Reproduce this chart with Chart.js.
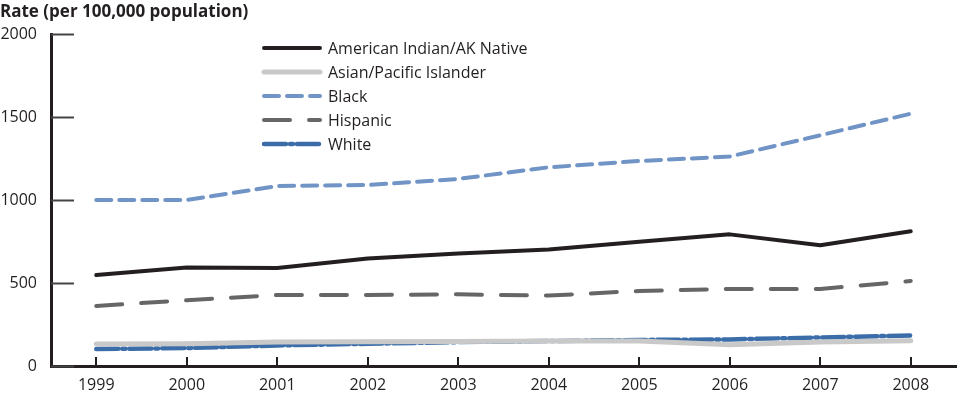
<!DOCTYPE html>
<html>
<head>
<meta charset="utf-8">
<script src="https://cdn.jsdelivr.net/npm/chart.js@4/dist/chart.umd.min.js"></script>
<style>
  html, body { margin: 0; padding: 0; background: #fff; }
  #wrap { width: 960px; height: 395px; position: relative; }
</style>
</head>
<body>
<div id="wrap"><canvas id="rateChart" width="960" height="395"></canvas></div>
<script>
// data
const years = ["1999", "2000", "2001", "2002", "2003", "2004", "2005", "2006", "2007", "2008"];
const aianRates = [548, 594, 590, 648, 678, 702, 748, 793, 728, 812];
const asianRates = [132, 134, 144, 146, 148, 150, 150, 128, 144, 152];
const blackRates = [1000, 1000, 1084, 1090, 1127, 1197, 1235, 1262, 1390, 1520];
const hispanicRates = [362, 396, 428, 428, 432, 424, 452, 464, 464, 512];
const whiteRates = [102, 108, 124, 134, 144, 150, 157, 160, 172, 184];
const yTicks = [0, 500, 1000, 1500, 2000];

const FONT = "'Open Sans', 'Noto Sans', sans-serif";
const INK = "#231f20";

const series = [
  { label: "American Indian/AK Native", data: aianRates, color: "#231f20", width: 4, dash: [] },
  { label: "Asian/Pacific Islander", data: asianRates, color: "#c9c9c9", width: 5, dash: [] },
  { label: "Black", data: blackRates, color: "#7194c6", width: 4, dash: [15, 8] },
  { label: "Hispanic", data: hispanicRates, color: "#666666", width: 4, dash: [26, 19] },
  { label: "White", data: whiteRates, color: "#3b6ea9", width: 4.5, dash: [22, 4, 3, 4] }
];

// title, inner tick marks and the custom legend
const decorPlugin = {
  id: "decor",
  afterDraw(chart) {
    const ctx = chart.ctx;
    const x = chart.scales.x, y = chart.scales.y;
    const area = chart.chartArea;
    ctx.save();
    // title
    ctx.fillStyle = INK;
    ctx.font = "bold 17px " + FONT;
    ctx.textBaseline = "middle";
    ctx.textAlign = "left";
    ctx.fillText("Rate (per 100,000 population)", 0, 12);

    // y ticks (inside)
    ctx.strokeStyle = "#444";
    ctx.lineWidth = 2;
    yTicks.forEach(v => {
      const py = Math.round(y.getPixelForValue(v)) + 0.5;
      ctx.beginPath();
      ctx.moveTo(area.left, py);
      ctx.lineTo(area.left + 23, py);
      ctx.stroke();
    });
    // x ticks (inside)
    ctx.strokeStyle = INK;
    years.forEach((yr, i) => {
      const px = Math.round(x.getPixelForValue(i));
      ctx.beginPath();
      ctx.moveTo(px, area.bottom - 9);
      ctx.lineTo(px, area.bottom);
      ctx.stroke();
    });

    // legend
    ctx.font = "16px " + FONT;
    ctx.lineCap = "round";
    chart.data.datasets.forEach((ds, i) => {
      const ly = 48 + i * 24;
      ctx.strokeStyle = ds.borderColor;
      ctx.lineWidth = ds.borderWidth;
      ctx.setLineDash(ds.borderDash || []);
      ctx.beginPath();
      ctx.moveTo(264, ly);
      ctx.lineTo(320, ly);
      ctx.stroke();
      ctx.setLineDash([]);
      ctx.fillStyle = INK;
      ctx.fillText(ds.label, 328, ly + 1);
    });
    ctx.restore();
  }
};

new Chart(document.getElementById("rateChart"), {
  type: "line",
  data: {
    labels: years,
    datasets: series.map(s => ({
      label: s.label,
      data: s.data,
      borderColor: s.color,
      backgroundColor: s.color,
      borderWidth: s.width,
      borderDash: s.dash,
      borderCapStyle: "round",
      borderJoinStyle: "round",
      pointRadius: 0,
      tension: 0,
      fill: false
    }))
  },
  options: {
    responsive: false,
    animation: false,
    layout: { padding: { top: 34, right: 4, left: 0, bottom: 0 } },
    plugins: {
      legend: { display: false },
      tooltip: { enabled: false }
    },
    scales: {
      x: {
        type: "category",
        offset: true,
        grid: { display: false },
        border: { display: true, color: INK, width: 3 },
        ticks: { color: INK, font: { family: FONT, size: 16 }, padding: 2, maxRotation: 0 },
        afterFit(scale) { scale.height = 29; }
      },
      y: {
        min: 0,
        max: 2000,
        grid: { display: false },
        border: { display: true, color: INK, width: 3 },
        afterBuildTicks(scale) { scale.ticks = yTicks.map(v => ({ value: v })); },
        ticks: { color: INK, font: { family: FONT, size: 16 }, padding: 6, callback: v => String(v) },
        afterFit(scale) { scale.width = 51; }
      }
    }
  },
  plugins: [decorPlugin]
});
</script>
</body>
</html>
